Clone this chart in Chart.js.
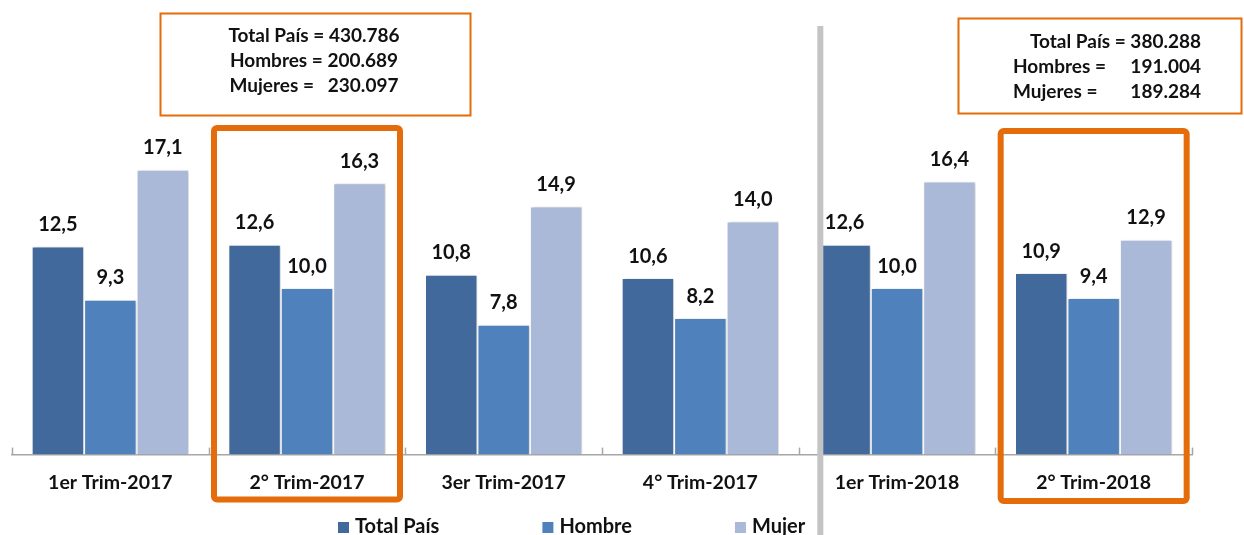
<!DOCTYPE html>
<html>
<head>
<meta charset="utf-8">
<script src="https://cdn.jsdelivr.net/npm/chart.js@4.4.0/dist/chart.umd.min.js"></script>
<style>
  html, body { margin: 0; padding: 0; background: #fff; overflow: hidden; }
  #wrap { width: 1244px; height: 535px; position: relative; }
</style>
</head>
<body>
<div id="wrap"><canvas id="desocupacion"></canvas></div>
<script>
const trimestres = ['1er Trim-2017', '2° Trim-2017', '3er Trim-2017', '4° Trim-2017', '1er Trim-2018', '2° Trim-2018']
const totalPais = [12.5, 12.6, 10.8, 10.6, 12.6, 10.9]
const hombre = [9.3, 10.0, 7.8, 8.2, 10.0, 9.4]
const mujer = [17.1, 16.3, 14.9, 14.0, 16.4, 12.9]
const series = ['Total País', 'Hombre', 'Mujer']
const resumen2017 = ['Total País = 430.786', 'Hombres = 200.689', 'Mujeres =   230.097']
const resumen2018 = [['', 'Total País = 380.288'], ['Hombres =', '191.004'], ['Mujeres =', '189.284']]
const destacados = [1, 5]

const colores = ['#41699b', '#4f81bd', '#aab9d8']
const naranja = '#e46c0a'
const FONT = 'Lato, "Open Sans", sans-serif'

const extras = {
    id: 'extras',
    beforeDatasetsDraw(chart) {
        const ctx = chart.ctx
        ctx.save()
        ctx.shadowColor = 'rgba(0,0,0,0.18)'
        ctx.shadowOffsetX = 2
        ctx.shadowBlur = 3
    },
    afterDatasetsDraw(chart) {
        chart.ctx.restore()
    },
    afterDraw(chart) {
        const ctx = chart.ctx
        const xs = chart.scales.x
        const area = chart.chartArea
        const catW = xs.width / trimestres.length

        // small tick marks between categories, drawn upward
        ctx.save()
        ctx.strokeStyle = '#a6a6a6'
        ctx.lineWidth = 1.5
        for (let i = 0; i <= trimestres.length; i++) {
            const x = Math.round(xs.left + i * catW) + 0.5
            ctx.beginPath()
            ctx.moveTo(x, area.bottom - 7)
            ctx.lineTo(x, area.bottom)
            ctx.stroke()
        }
        ctx.restore()

        // value labels above bars
        ctx.save()
        ctx.fillStyle = '#111'
        ctx.font = 'bold 20px ' + FONT
        ctx.textAlign = 'center'
        ctx.textBaseline = 'middle'
        chart.data.datasets.forEach((ds, d) => {
            chart.getDatasetMeta(d).data.forEach((bar, i) => {
                const txt = ds.data[i].toFixed(1).replace('.', ',')
                ctx.fillText(txt, bar.x, bar.y - 22)
            })
        })
        ctx.restore()

        // grey separator between 2017 and 2018
        ctx.save()
        ctx.fillStyle = '#c4c4c4'
        const sepX = xs.getPixelForValue(4) - catW * 0.4 + 2
        ctx.fillRect(sepX - 3, 26, 6, chart.height - 26)
        ctx.restore()

        // orange highlight boxes
        ctx.save()
        ctx.strokeStyle = naranja
        ctx.lineWidth = 6
        ctx.lineJoin = 'round'
        destacados.forEach((idx, k) => {
            const cx = xs.getPixelForValue(idx)
            const top = k === 0 ? 128 : 131
            const bottom = k === 0 ? 499.5 : 501
            ctx.beginPath()
            ctx.roundRect(cx - 93, top, 186, bottom - top, 3)
            ctx.stroke()
        })
        ctx.restore()

        // summary boxes
        ctx.save()
        ctx.strokeStyle = naranja
        ctx.lineWidth = 2
        ctx.strokeRect(160.5, 13.5, 310, 102)
        ctx.strokeRect(958.5, 18.5, 283, 95)
        ctx.fillStyle = '#111'
        ctx.font = 'bold 19px ' + FONT
        ctx.textBaseline = 'middle'
        ctx.textAlign = 'center'
        resumen2017.forEach((t, i) => ctx.fillText(t, 314, 36 + i * 25))
        resumen2018.forEach((p, i) => {
            ctx.textAlign = 'left'
            ctx.fillText(p[0], 1013, 42 + i * 25)
            ctx.textAlign = 'right'
            ctx.fillText(p[1], 1201, 42 + i * 25)
        })
        ctx.restore()

        // legend
        ctx.save()
        ctx.font = 'bold 20px ' + FONT
        ctx.textBaseline = 'middle'
        ctx.textAlign = 'left'
        let lx = 338
        chart.data.datasets.forEach((ds, d) => {
            ctx.fillStyle = ds.backgroundColor
            ctx.fillRect(lx, 522, 11, 11)
            ctx.fillStyle = '#111'
            ctx.fillText(ds.label, lx + 17, 527)
            lx += 17 + ctx.measureText(ds.label).width + 103
        })
        ctx.restore()
    }
}

function dibujar() {
    const ctl = document.getElementById('desocupacion')
    window.desocupacionChart = new Chart(ctl, {
        type: 'bar',
        data: {
            labels: trimestres,
            datasets: [totalPais, hombre, mujer].map((vals, d) => ({
                label: series[d],
                data: vals,
                backgroundColor: colores[d],
                borderColor: '#ffffff',
                borderWidth: 1,
                categoryPercentage: 0.8,
                barPercentage: 1
            }))
        },
        options: {
            responsive: true,
            maintainAspectRatio: false,
            animation: false,
            layout: {
                padding: {left: 12, right: 52, top: 5, bottom: 25}
            },
            plugins: {
                legend: {display: false},
                tooltip: {enabled: false}
            },
            scales: {
                x: {
                    grid: {display: false, drawTicks: false},
                    border: {display: true, color: '#a6a6a6', width: 1.5},
                    ticks: {
                        color: '#111',
                        font: {family: FONT, size: 19.5, weight: 'bold'},
                        padding: 16,
                        maxRotation: 0,
                        autoSkip: false
                    }
                },
                y: {display: false, min: 0, max: 27}
            }
        },
        plugins: [extras]
    })
}

document.fonts.load('bold 20px Lato').then(dibujar, dibujar)
</script>
</body>
</html>
